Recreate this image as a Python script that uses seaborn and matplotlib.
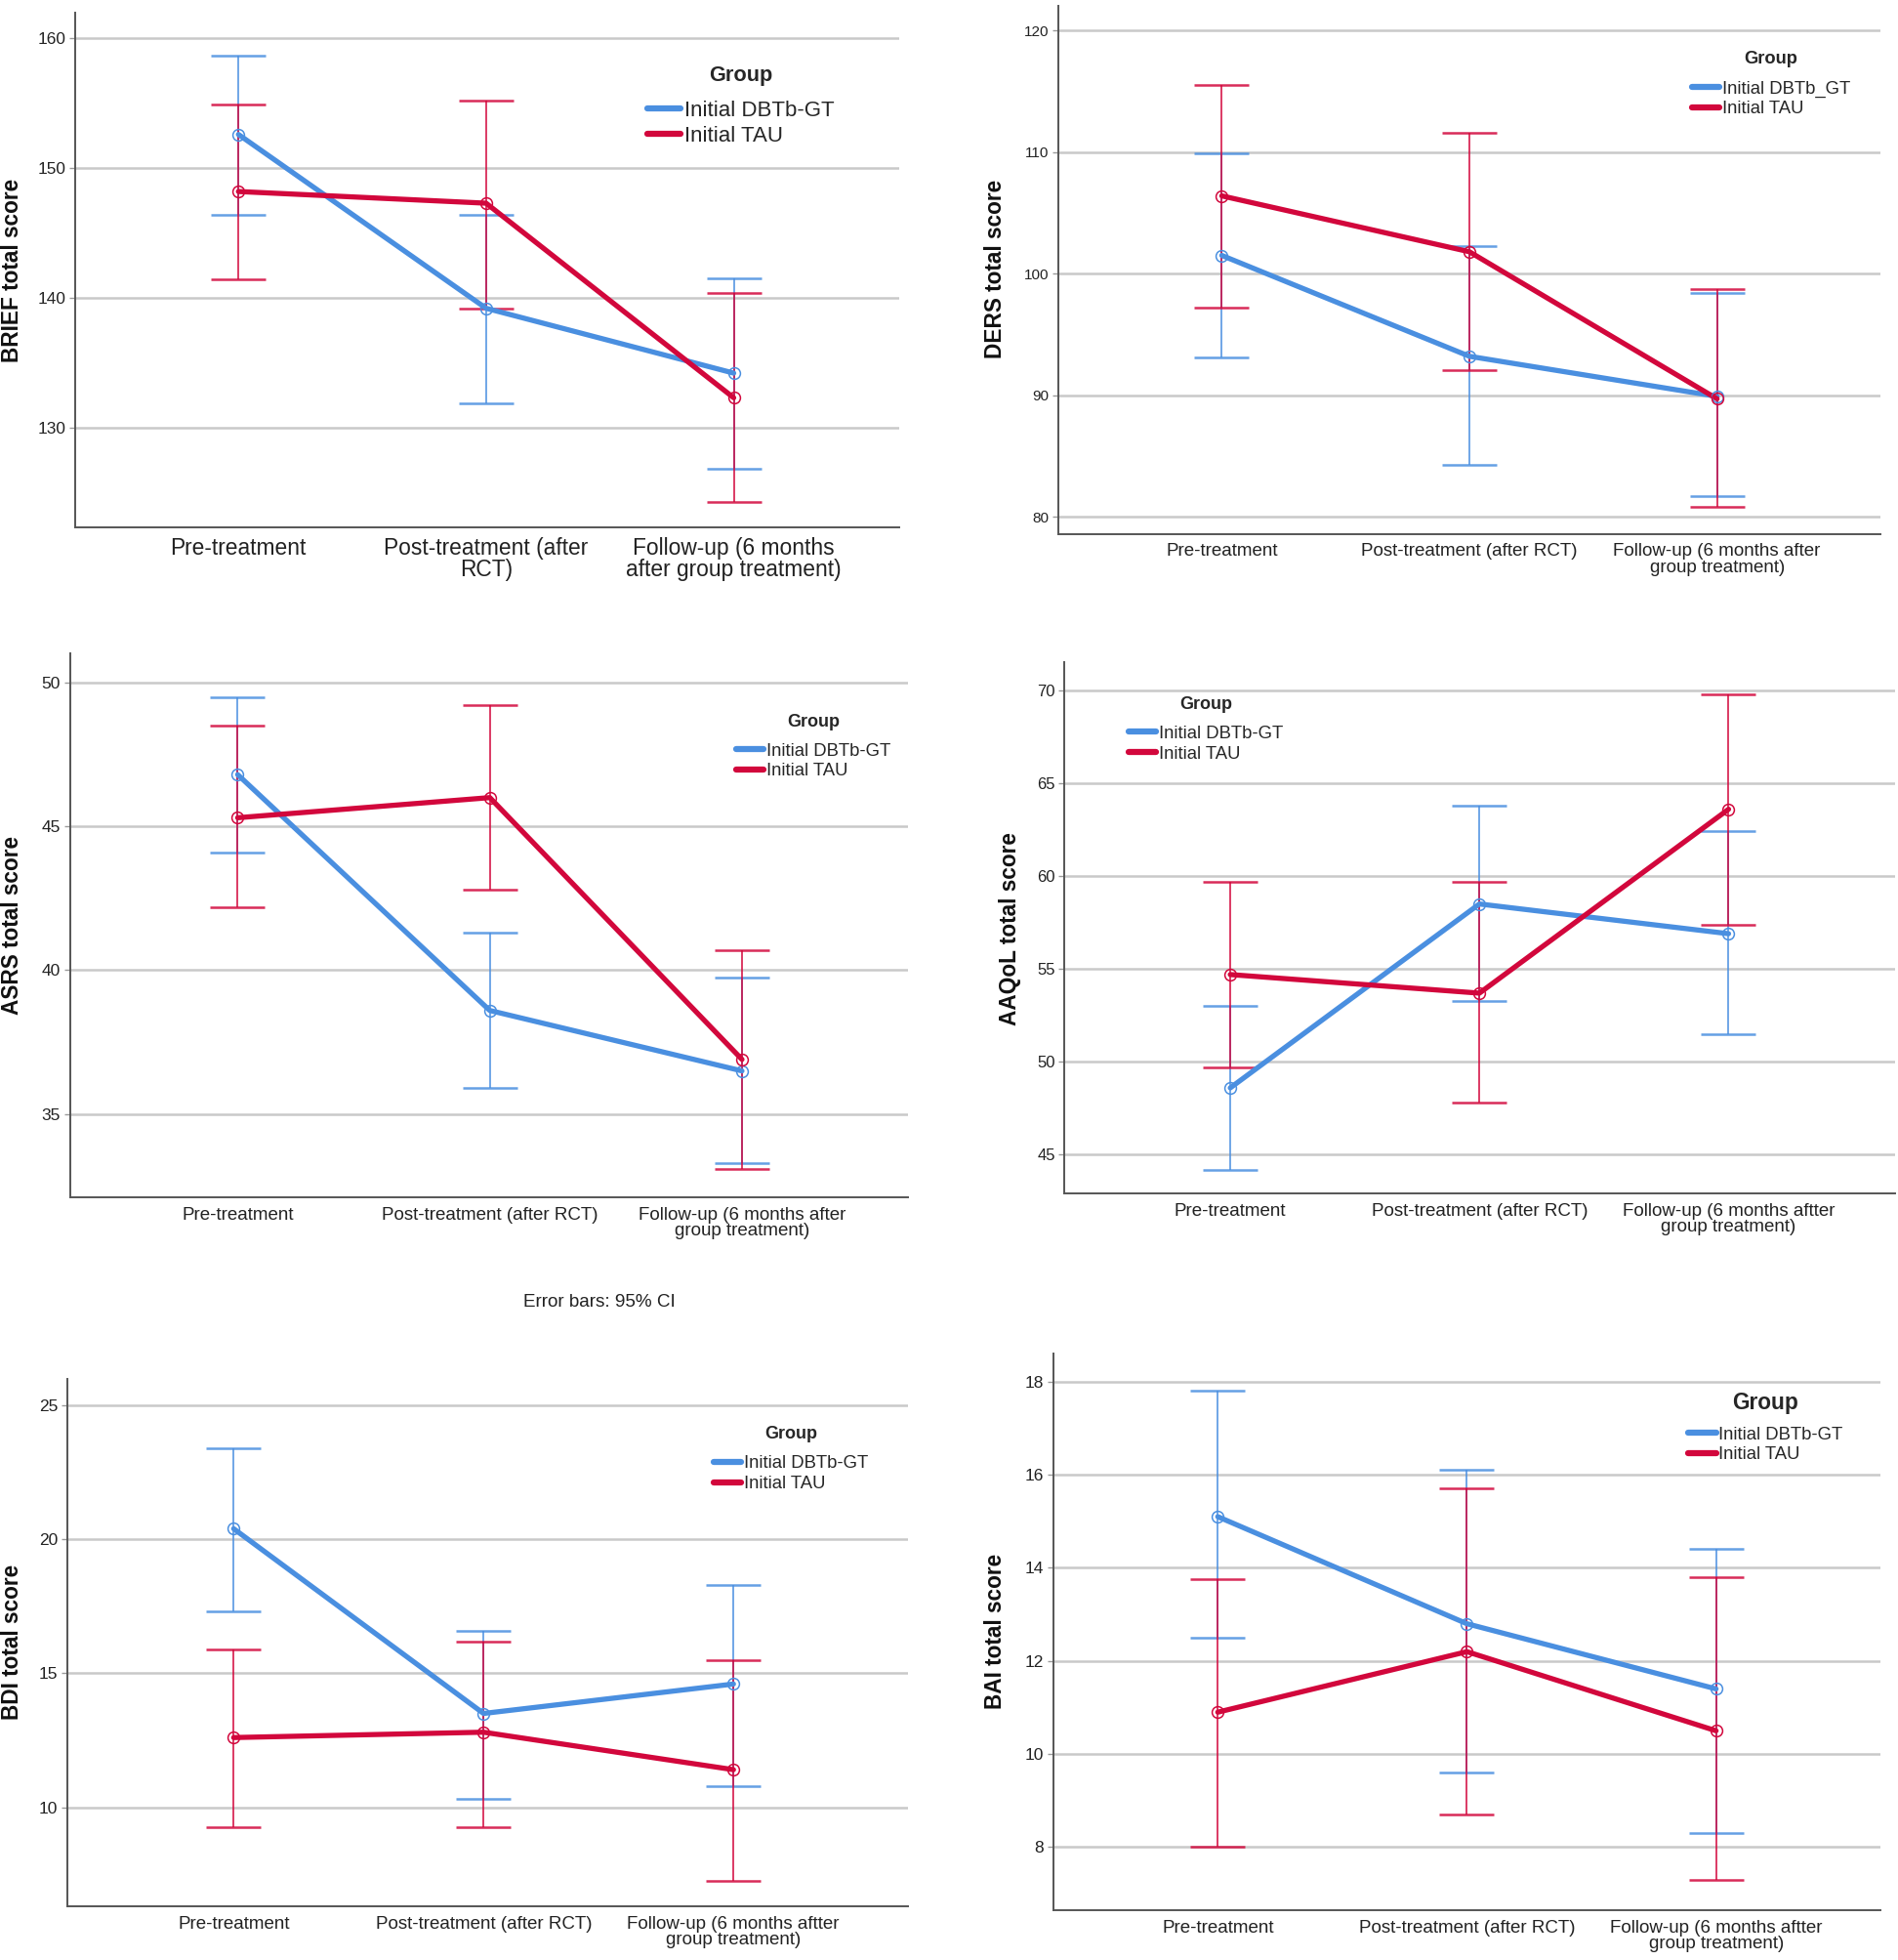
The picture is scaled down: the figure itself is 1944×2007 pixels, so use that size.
import numpy as np
import pandas as pd
import matplotlib
matplotlib.use('Agg')
import matplotlib.pyplot as plt
from matplotlib.lines import Line2D
import seaborn as sns

# categorias y grupos
times = ['Pre', 'Post', 'FU']
groups = ['Initial DBTb-GT', 'Initial TAU']

# BRIEF (media, IC95 inferior, IC95 superior)
brief_dbt = [152.6, 139.2, 134.2]
brief_dbt_lo = [146.4, 131.9, 126.8]
brief_dbt_hi = [158.7, 146.4, 141.5]
brief_tau = [148.2, 147.3, 132.3]
brief_tau_lo = [141.4, 139.2, 124.3]
brief_tau_hi = [154.9, 155.2, 140.4]

# DERS
ders_dbt = [101.5, 93.2, 89.9]
ders_dbt_lo = [93.1, 84.3, 81.7]
ders_dbt_hi = [109.9, 102.3, 98.4]
ders_tau = [106.4, 101.8, 89.7]
ders_tau_lo = [97.2, 92.1, 80.8]
ders_tau_hi = [115.5, 111.6, 98.7]

# ASRS
asrs_dbt = [46.8, 38.6, 36.5]
asrs_dbt_lo = [44.1, 35.9, 33.3]
asrs_dbt_hi = [49.5, 41.3, 39.75]
asrs_tau = [45.3, 46.0, 36.9]
asrs_tau_lo = [42.2, 42.8, 33.1]
asrs_tau_hi = [48.5, 49.2, 40.7]

# AAQoL
aaqol_dbt = [48.6, 58.5, 56.9]
aaqol_dbt_lo = [44.2, 53.3, 51.5]
aaqol_dbt_hi = [53.0, 63.8, 62.4]
aaqol_tau = [54.7, 53.7, 63.6]
aaqol_tau_lo = [49.7, 47.8, 57.4]
aaqol_tau_hi = [59.7, 59.7, 69.8]

# BDI
bdi_dbt = [20.4, 13.5, 14.6]
bdi_dbt_lo = [17.3, 10.3, 10.8]
bdi_dbt_hi = [23.4, 16.6, 18.3]
bdi_tau = [12.6, 12.8, 11.4]
bdi_tau_lo = [9.25, 9.25, 7.25]
bdi_tau_hi = [15.9, 16.2, 15.5]

# BAI
bai_dbt = [15.1, 12.8, 11.4]
bai_dbt_lo = [12.5, 9.6, 8.3]
bai_dbt_hi = [17.8, 16.1, 14.4]
bai_tau = [10.9, 12.2, 10.5]
bai_tau_lo = [8.0, 8.7, 7.3]
bai_tau_hi = [13.75, 15.7, 13.8]

# etiquetas del eje x
xlab_p1 = ['Pre-treatment', 'Post-treatment (after\nRCT)', 'Follow-up (6 months\nafter group treatment)']
xlab_a = ['Pre-treatment', 'Post-treatment (after RCT)', 'Follow-up (6 months after\ngroup treatment)']
xlab_b = ['Pre-treatment', 'Post-treatment (after RCT)', 'Follow-up (6 months aftter\ngroup treatment)']

BLUE = '#4a8fe0'
RED = '#d2073c'
W, H = 1519, 1568  # coordenadas de referencia para colocar los ejes

sns.set_theme(style='white')
plt.rcParams['font.family'] = ['Liberation Sans', 'DejaVu Sans']

fig = plt.figure(figsize=(19.44, 20.07), dpi=100)
fig.patch.set_facecolor('white')


def draw_panel(rect, ylabel, vals, ylim, yticks, xlim, xlabels, leg_labels, leg_xy, ylab_xy,
               tick_size=12.5, xlab_size=13.5, leg_size=13.3, title_size=13):
    l, t, r, b = rect
    ax = fig.add_axes([l / W, 1 - b / H, (r - l) / W, (b - t) / H])
    m1, lo1, hi1, m2, lo2, hi2 = vals
    df = pd.DataFrame({
        'time': times * 2,
        'group': [groups[0]] * len(times) + [groups[1]] * len(times),
        'mean': m1 + m2,
        'lo': lo1 + lo2,
        'hi': hi1 + hi2,
    })
    ax.yaxis.grid(True, color='#c9c9c9', lw=1.8)
    ax.set_axisbelow(True)
    for g, col in zip(groups, [BLUE, RED]):
        d = df[df['group'] == g]
        ax.errorbar(d['time'], d['mean'], yerr=[d['mean'] - d['lo'], d['hi'] - d['mean']],
                    fmt='none', ecolor=col, elinewidth=1.3, capsize=20, capthick=1.8,
                    alpha=0.85, zorder=2)
    sns.lineplot(data=df, x='time', y='mean', hue='group', palette=[BLUE, RED],
                 lw=3.8, legend=False, sort=False, errorbar=None, ax=ax, zorder=3)
    for g, col in zip(groups, [BLUE, RED]):
        d = df[df['group'] == g]
        ax.plot(d['time'], d['mean'], 'o', ms=8.5, mfc='none', mec=col, mew=1.1, zorder=4)

    ax.set_xlim(*xlim)
    ax.set_ylim(*ylim)
    ax.set_yticks(yticks)
    ax.set_xticks(np.arange(len(times)), labels=xlabels)
    for lab in ax.get_xticklabels():
        lab.set_linespacing(0.95)
    ax.tick_params(axis='x', length=0, pad=7, labelsize=xlab_size, labelcolor='#222222')
    ax.tick_params(axis='y', length=4, width=1, color='#999999', pad=3,
                   labelsize=tick_size, labelcolor='#222222', left=True)
    ax.set_xlabel('')
    ax.set_ylabel(ylabel, fontsize=16.3, fontweight='bold', va='center', color='#111111')
    ax.yaxis.set_label_coords(ylab_xy[0] / W, 1 - ylab_xy[1] / H, transform=fig.transFigure)
    for s in ['top', 'right']:
        ax.spines[s].set_visible(False)
    for s in ['left', 'bottom']:
        ax.spines[s].set_color('#555555')
        ax.spines[s].set_linewidth(1.4)

    handles = [Line2D([], [], color=BLUE, lw=4.5), Line2D([], [], color=RED, lw=4.5)]
    leg = ax.legend(handles, leg_labels, title='Group', loc='upper left',
                    bbox_to_anchor=(leg_xy[0] / W, 1 - leg_xy[1] / H),
                    bbox_transform=fig.transFigure,
                    frameon=False, borderpad=0, borderaxespad=0, handlelength=1.55,
                    handletextpad=0.15, labelspacing=0.2, fontsize=leg_size,
                    title_fontproperties={'weight': 'bold', 'size': title_size})
    # un poco mas de aire entre el titulo y las entradas
    leg._legend_box.sep = 0.7 * leg_size
    return ax


draw_panel((60, 10, 720, 422), 'BRIEF total score',
           (brief_dbt, brief_dbt_lo, brief_dbt_hi, brief_tau, brief_tau_lo, brief_tau_hi),
           (122.3, 162), [130, 140, 150, 160], (-0.66, 2.67), xlab_p1,
           groups, (518, 52), (10, 216),
           tick_size=12.4, xlab_size=16.4, leg_size=16, title_size=15.7)

draw_panel((847, 5, 1505, 427), 'DERS total score',
           (ders_dbt, ders_dbt_lo, ders_dbt_hi, ders_tau, ders_tau_lo, ders_tau_hi),
           (78.6, 122.0), [80, 90, 100, 110, 120], (-0.66, 2.66), xlab_a,
           ['Initial DBTb_GT', 'Initial TAU'], (1354, 41), (797, 215),
           tick_size=11, title_size=13.2)

draw_panel((56, 523, 727, 958), 'ASRS total score',
           (asrs_dbt, asrs_dbt_lo, asrs_dbt_hi, asrs_tau, asrs_tau_lo, asrs_tau_hi),
           (32.1, 51.0), [35, 40, 45, 50], (-0.665, 2.66), xlab_a,
           groups, (589, 571), (10, 740))

draw_panel((852, 530, 1517, 955), 'AAQoL total score',
           (aaqol_dbt, aaqol_dbt_lo, aaqol_dbt_hi, aaqol_tau, aaqol_tau_lo, aaqol_tau_hi),
           (42.9, 71.5), [45, 50, 55, 60, 65, 70], (-0.665, 2.67), xlab_b,
           groups, (903, 557), (808, 743), tick_size=12)

draw_panel((54, 1103, 727, 1525), 'BDI total score',
           (bdi_dbt, bdi_dbt_lo, bdi_dbt_hi, bdi_tau, bdi_tau_lo, bdi_tau_hi),
           (6.3, 26.0), [10, 15, 20, 25], (-0.665, 2.7), xlab_b,
           groups, (571, 1141), (10, 1314))

draw_panel((843, 1083, 1505, 1528), 'BAI total score',
           (bai_dbt, bai_dbt_lo, bai_dbt_hi, bai_tau, bai_tau_lo, bai_tau_hi),
           (6.65, 18.6), [8, 10, 12, 14, 16, 18], (-0.66, 2.66), xlab_b,
           groups, (1351, 1113), (797, 1305), title_size=16.3)

fig.text(480 / W, 1 - 1042 / H, 'Error bars: 95% CI', ha='center', va='center',
         fontsize=13.6, color='#222222')

fig.savefig('out.png', dpi=100, facecolor='white')
